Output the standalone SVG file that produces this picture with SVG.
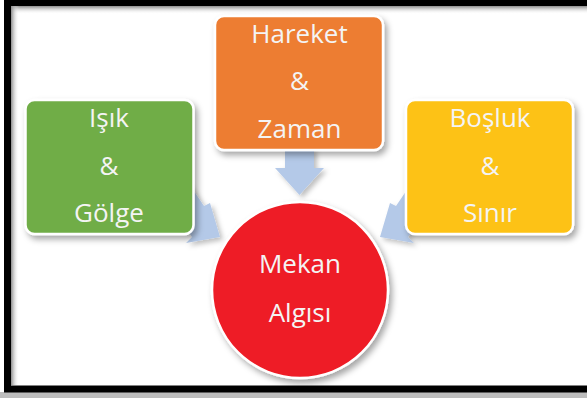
<svg xmlns="http://www.w3.org/2000/svg" width="587" height="398" viewBox="0 0 587 398">
  <defs>
    <filter id="sh" x="-20%" y="-20%" width="150%" height="150%">
      <feDropShadow dx="3" dy="4" stdDeviation="3" flood-color="#000" flood-opacity="0.35"/>
    </filter>
    <filter id="ash" x="-30%" y="-30%" width="170%" height="170%">
      <feDropShadow dx="3" dy="3" stdDeviation="2.5" flood-color="#000" flood-opacity="0.25"/>
    </filter>
    <linearGradient id="topIn" x1="0" y1="0" x2="0" y2="1">
      <stop offset="0" stop-color="#8c8c8c"/>
      <stop offset="1" stop-color="#fff" stop-opacity="0"/>
    </linearGradient>
    <linearGradient id="leftIn" x1="0" y1="0" x2="1" y2="0">
      <stop offset="0" stop-color="#8c8c8c"/>
      <stop offset="1" stop-color="#fff" stop-opacity="0"/>
    </linearGradient>
    <style>
      .box { stroke: #ffffff; stroke-width: 2.5; }
      .t { font-family: "Open Sans", "Liberation Sans", sans-serif; font-size: 26px; fill: #f4f4f4; text-anchor: middle; }
      .arrow { fill: #b4c9e8; }
    </style>
  </defs>

  <g id="frame">
    <rect x="0" y="0" width="587" height="398" fill="#ffffff"/>
    <rect x="0" y="392" width="587" height="6" fill="#bdbdbd"/>
    <rect x="11" y="6" width="580" height="8" fill="url(#topIn)"/>
    <rect x="11" y="6" width="8" height="379" fill="url(#leftIn)"/>
    <rect x="7.5" y="2.5" width="600" height="386.5" fill="none" stroke="#000000" stroke-width="7"/>
  </g>

  <g id="connectors" filter="url(#ash)">
    <polygon class="arrow" points="285,148 314,148 314,168 324,168 299.5,195 275,168 285,168"/>
    <polygon class="arrow" points="160,190 181,172 204,206 210,203 220,237 186,243 192,237"/>
    <polygon class="arrow" points="440,190 419,172 396,206 390,203 380,237 414,243 408,237"/>
  </g>

  <g id="node-isik">
    <rect class="box" x="25.5" y="100" width="168" height="134" rx="9" fill="#70ad47" filter="url(#sh)"/>
    <text class="t" x="109" y="127">Işık</text>
    <text class="t" x="109" y="175">&amp;</text>
    <text class="t" x="109" y="222">Gölge</text>
  </g>

  <g id="node-hareket">
    <rect class="box" x="215" y="16" width="168" height="134" rx="9" fill="#ed7d31" filter="url(#sh)"/>
    <text class="t" x="299.5" y="43">Hareket</text>
    <text class="t" x="299.5" y="90">&amp;</text>
    <text class="t" x="299.5" y="138">Zaman</text>
  </g>

  <g id="node-bosluk">
    <rect class="box" x="406" y="100" width="167" height="134" rx="9" fill="#fdc212" filter="url(#sh)"/>
    <text class="t" x="490" y="127">Boşluk</text>
    <text class="t" x="490" y="175">&amp;</text>
    <text class="t" x="490" y="222">Sınır</text>
  </g>

  <g id="node-mekan">
    <ellipse class="box" cx="300" cy="290" rx="88" ry="88" fill="#ee1d25" filter="url(#sh)"/>
    <text class="t" x="300" y="273">Mekan</text>
    <text class="t" x="300" y="322">Algısı</text>
  </g>
</svg>
